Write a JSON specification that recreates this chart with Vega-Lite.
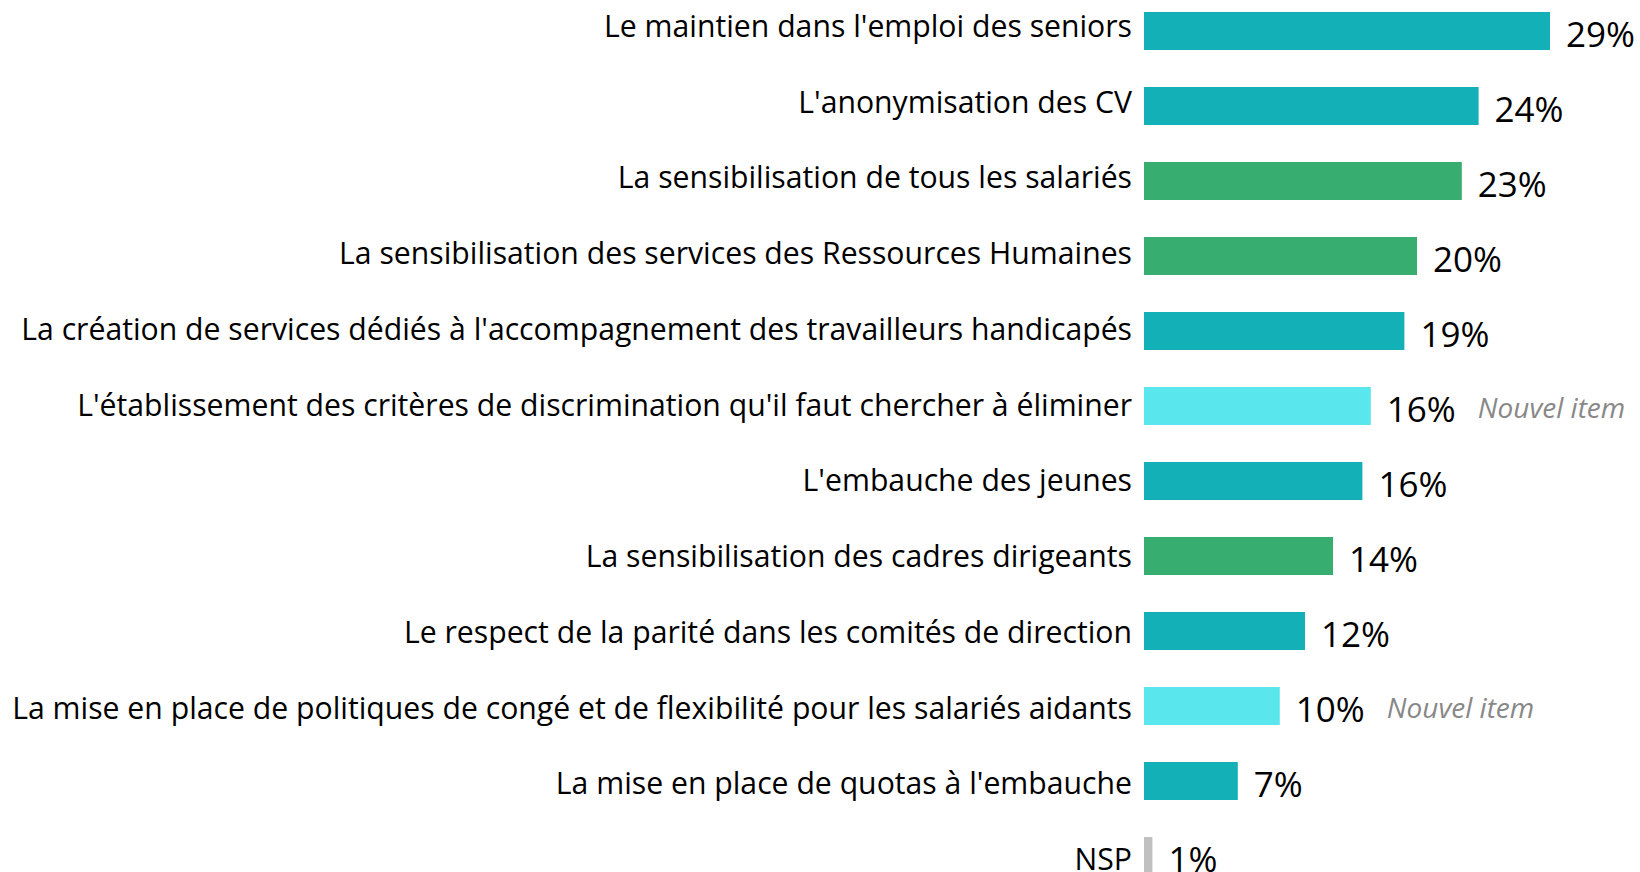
{
  "$schema": "https://vega.github.io/schema/vega-lite/v6.json",
  "autosize": {"type": "none"},
  "padding": {"left": 1144, "top": 0, "right": 0, "bottom": 0},
  "width": 504,
  "height": 887,
  "background": "white",
  "config": {"view": {"stroke": null}, "font": "Open Sans"},
  "data": {"values": [
    {"item": "Le maintien dans l'emploi des seniors", "value": 29, "label": "29%", "type": "a", "note": ""},
    {"item": "L'anonymisation des CV", "value": 23.9, "label": "24%", "type": "a", "note": ""},
    {"item": "La sensibilisation de tous les salariés", "value": 22.7, "label": "23%", "type": "b", "note": ""},
    {"item": "La sensibilisation des services des Ressources Humaines", "value": 19.5, "label": "20%", "type": "b", "note": ""},
    {"item": "La création de services dédiés à l'accompagnement des travailleurs handicapés", "value": 18.6, "label": "19%", "type": "a", "note": ""},
    {"item": "L'établissement des critères de discrimination qu'il faut chercher à éliminer", "value": 16.2, "label": "16%", "type": "c", "note": "Nouvel item"},
    {"item": "L'embauche des jeunes", "value": 15.6, "label": "16%", "type": "a", "note": ""},
    {"item": "La sensibilisation des cadres dirigeants", "value": 13.5, "label": "14%", "type": "b", "note": ""},
    {"item": "Le respect de la parité dans les comités de direction", "value": 11.5, "label": "12%", "type": "a", "note": ""},
    {"item": "La mise en place de politiques de congé et de flexibilité pour les salariés aidants", "value": 9.7, "label": "10%", "type": "c", "note": "Nouvel item"},
    {"item": "La mise en place de quotas à l'embauche", "value": 6.7, "label": "7%", "type": "a", "note": ""},
    {"item": "NSP", "value": 0.6, "label": "1%", "type": "d", "note": ""}
  ]},
  "resolve": {"scale": {"y": "independent"}},
  "layer": [
    {
      "encoding": {
        "y": {
          "field": "item", "type": "nominal", "sort": null,
          "scale": {"paddingInner": 0.493, "paddingOuter": 0.16},
          "axis": null
        },
        "x": {"field": "value", "type": "quantitative", "scale": {"domain": [0, 36], "nice": false, "zero": true}, "axis": null}
      },
      "layer": [
        {
          "mark": {"type": "bar"},
          "encoding": {
            "color": {"field": "type", "type": "nominal", "legend": null,
              "scale": {"domain": ["a", "b", "c", "d"], "range": ["#14B0B7", "#37AD6F", "#59E6EC", "#C0C0C0"]}}
          }
        },
        {
          "mark": {"type": "text", "align": "left", "baseline": "middle", "dx": 16, "dy": 5, "fontSize": 35, "color": "#000000"},
          "encoding": {"text": {"field": "label"}}
        },
        {
          "mark": {"type": "text", "align": "left", "baseline": "middle", "dx": 107, "dy": 4, "fontSize": 28, "fontStyle": "italic", "color": "#888888"},
          "encoding": {"text": {"field": "note"}}
        }
      ]
    },
    {
      "mark": {"type": "text", "align": "right", "baseline": "alphabetic", "dx": -12, "dy": 10, "fontSize": 30.2, "color": "#000000"},
      "encoding": {
        "y": {
          "field": "item", "type": "nominal", "sort": null,
          "scale": {"type": "point", "padding": 0.357},
          "axis": null
        },
        "x": {"datum": 0, "type": "quantitative", "scale": {"domain": [0, 36], "nice": false, "zero": true}},
        "text": {"field": "item"}
      }
    }
  ]
}
